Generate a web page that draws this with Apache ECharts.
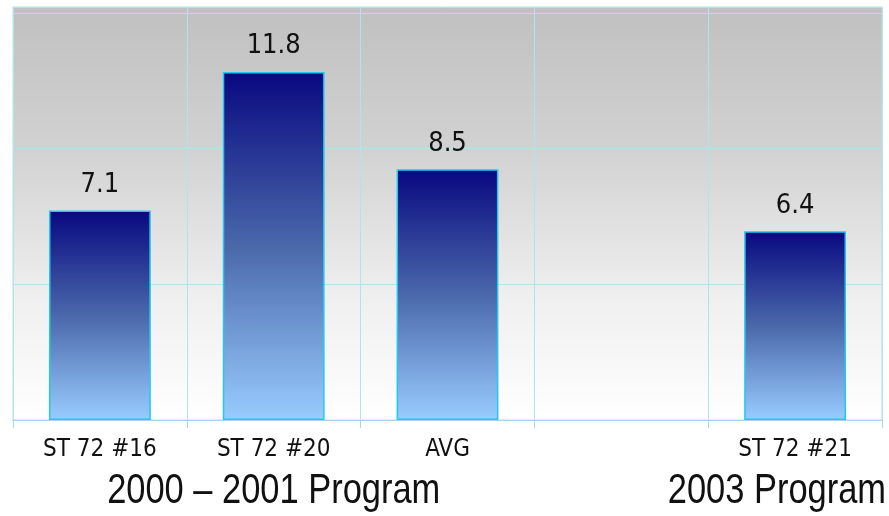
<!DOCTYPE html>
<html>
<head>
<meta charset="utf-8">
<script src="https://cdn.jsdelivr.net/npm/echarts@6/dist/echarts.min.js"></script>
<style>
html,body{margin:0;padding:0;background:#fff;}
#c{width:889px;height:516px;}
</style>
</head>
<body>
<div id="c"></div>
<script>
var categories = ['ST 72 #16', 'ST 72 #20', 'AVG', '', 'ST 72 #21'];
var values = [7.1, 11.8, 8.5, null, 6.4];
var groupLabels = ['2000 – 2001 Program', '2003 Program'];

var FONT = '"DejaVu Sans Condensed", sans-serif';
var BIGFONT = '"Liberation Sans", Arial, sans-serif';
var chart = echarts.init(document.getElementById('c'));
var option = {
  animation: false,
  grid: {
    left: 13, right: 7, top: 7, bottom: 96,
    show: true, borderWidth: 1, borderColor: '#b4e2e8',
    backgroundColor: new echarts.graphic.LinearGradient(0, 0, 0, 1, [
      {offset: 0, color: '#c0c0c0'},
      {offset: 0.35, color: '#d2d2d2'},
      {offset: 0.7, color: '#efefef'},
      {offset: 1, color: '#ffffff'}
    ])
  },
  xAxis: {
    type: 'category',
    data: categories,
    axisLine: {lineStyle: {color: '#a8d4f0', width: 1}},
    axisTick: {show: true, length: 8, lineStyle: {color: '#a8d4f0'}},
    axisLabel: {color: '#111', fontSize: 24, fontFamily: FONT, margin: 18},
    splitLine: {show: true, lineStyle: {color: '#b4e2e8', width: 1}}
  },
  yAxis: {
    type: 'value',
    min: 0, max: 14, interval: 4.6,
    axisLine: {show: false},
    axisTick: {show: false},
    axisLabel: {show: false},
    splitLine: {show: true, lineStyle: {color: '#b4e2e8', width: 1}}
  },
  series: [{
    type: 'bar',
    data: values,
    barWidth: '58.6%',
    itemStyle: {
      borderColor: '#22c8f0',
      borderWidth: 1.5,
      color: new echarts.graphic.LinearGradient(0, 0, 0, 1, [
        {offset: 0, color: '#080880'},
        {offset: 0.5, color: '#4a68aa'},
        {offset: 1, color: '#99ccff'}
      ])
    },
    label: {
      show: true, position: 'top', distance: 12,
      color: '#111', fontSize: 27, fontFamily: FONT
    }
  }]
};
chart.setOption(option);
var p0 = chart.convertToPixel({xAxisIndex: 0}, categories[1]);
chart.setOption({
  graphic: [
    {type: 'text', x: p0, y: 491, scaleX: 0.82, style: {text: groupLabels[0], fill: '#111', fontSize: 42, fontFamily: BIGFONT, textAlign: 'center', textVerticalAlign: 'middle'}},
    {type: 'text', x: 886, y: 491, scaleX: 0.82, style: {text: groupLabels[1], fill: '#111', fontSize: 42, fontFamily: BIGFONT, textAlign: 'right', textVerticalAlign: 'middle'}}
  ]
});
</script>
</body>
</html>
